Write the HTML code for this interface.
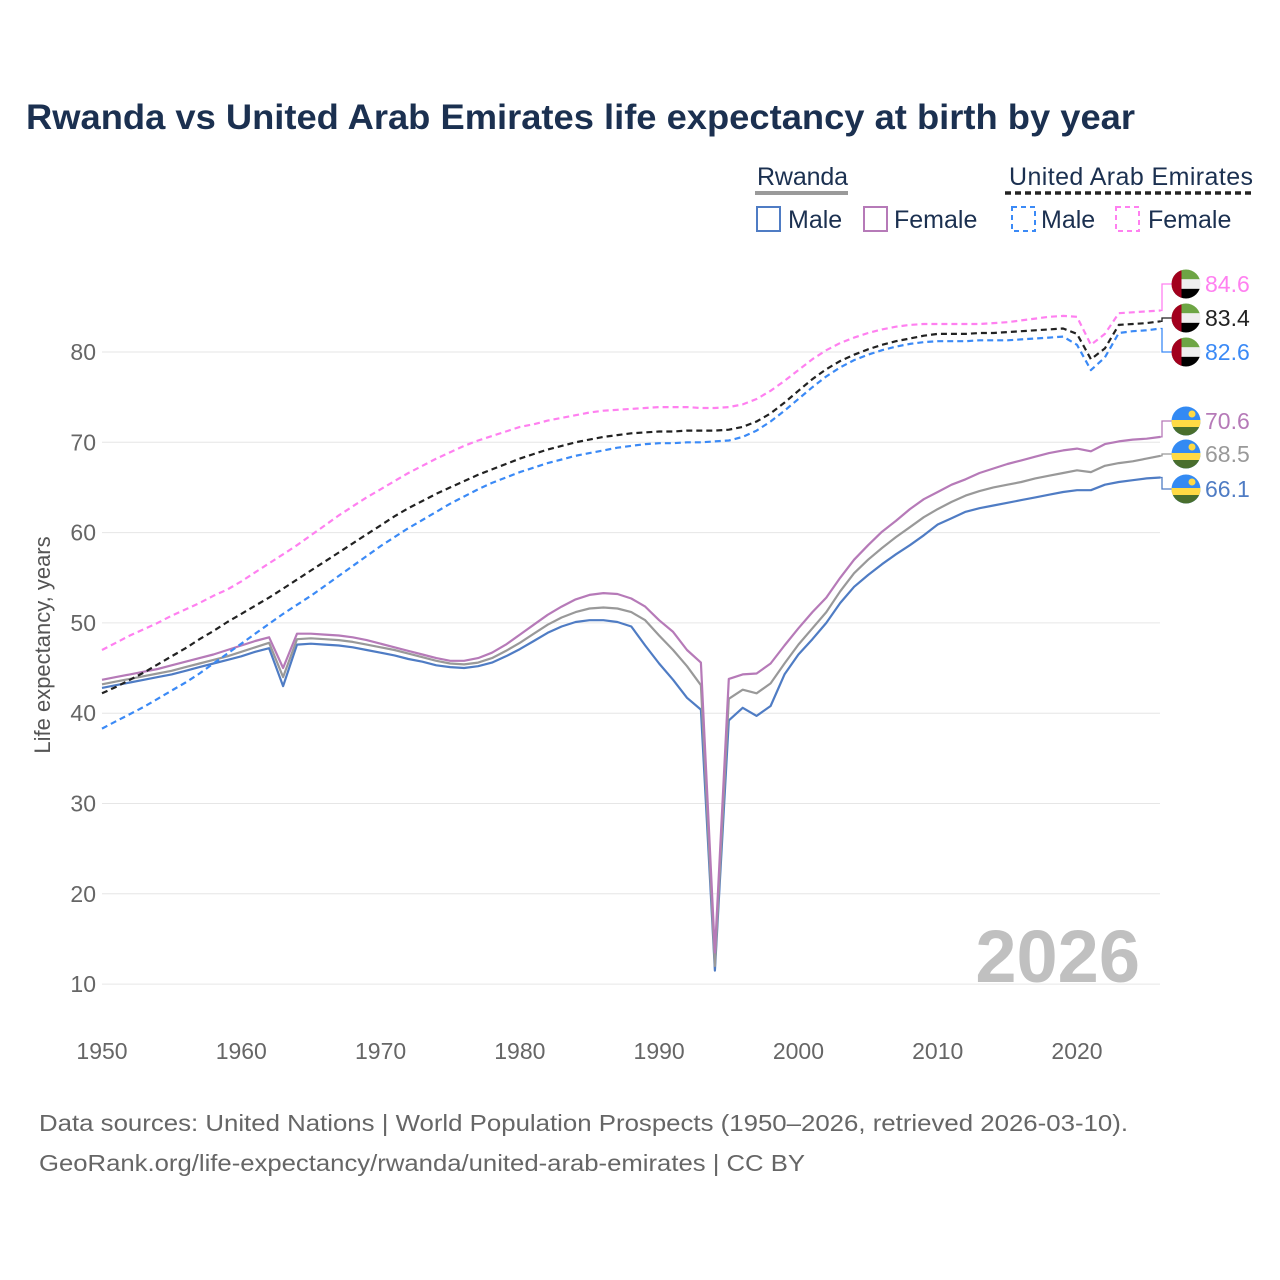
<!DOCTYPE html>
<html><head><meta charset="utf-8"><style>
body{margin:0;background:#fff;}
svg{display:block;font-family:"Liberation Sans",sans-serif;}
</style></head><body>
<svg id="chart" width="1280" height="1280" viewBox="0 0 1280 1280">
<text x="26" y="129" font-size="35" font-weight="bold" fill="#1b3050" textLength="1109" lengthAdjust="spacingAndGlyphs">Rwanda vs United Arab Emirates life expectancy at birth by year</text>
<g font-size="25" fill="#1b3050">
<text x="757" y="185" textLength="91">Rwanda</text>
<line x1="755" y1="193" x2="848" y2="193" stroke="#9a9a9a" stroke-width="4"/>
<rect x="757" y="207" width="23" height="24" fill="none" stroke="#4f7cc4" stroke-width="2"/>
<text x="788" y="228">Male</text>
<rect x="864" y="207" width="23" height="24" fill="none" stroke="#b67ab8" stroke-width="2"/>
<text x="894" y="228">Female</text>
<text x="1009" y="185" textLength="244">United Arab Emirates</text>
<line x1="1005" y1="193" x2="1254" y2="193" stroke="#222" stroke-width="3.5" stroke-dasharray="6,4"/>
<rect x="1012" y="207" width="23" height="24" fill="none" stroke="#3b8af6" stroke-width="2" stroke-dasharray="5,4"/>
<text x="1041" y="228">Male</text>
<rect x="1116" y="207" width="23" height="24" fill="none" stroke="#ff80f0" stroke-width="2" stroke-dasharray="5,4"/>
<text x="1148" y="228">Female</text>
</g>
<g id="grid"></g>
<g id="series"></g>
<g id="ends"></g>
<text x="1140" y="982" font-size="74" font-weight="bold" fill="#c0c0c0" text-anchor="end">2026</text>
<text transform="translate(50,645) rotate(-90)" font-size="22" fill="#555" text-anchor="middle">Life expectancy, years</text>
<text x="39" y="1131" font-size="23" fill="#666" textLength="1089" lengthAdjust="spacingAndGlyphs">Data sources: United Nations | World Population Prospects (1950–2026, retrieved 2026-03-10).</text>
<text x="39" y="1171" font-size="23" fill="#666" textLength="766" lengthAdjust="spacingAndGlyphs">GeoRank.org/life-expectancy/rwanda/united-arab-emirates | CC BY</text>
</svg>
<script>
const startYear = 1950;
const xTicks = [1950,1960,1970,1980,1990,2000,2010,2020];
const yTicks = [10,20,30,40,50,60,70,80];
const uaeFemale = [47.0,47.8,48.6,49.3,50.0,50.8,51.5,52.2,53.0,53.7,54.6,55.6,56.6,57.6,58.6,59.7,60.8,61.9,62.9,63.9,64.8,65.7,66.6,67.4,68.2,68.9,69.6,70.2,70.7,71.2,71.7,72.0,72.4,72.7,73.0,73.3,73.5,73.6,73.7,73.8,73.9,73.9,73.9,73.8,73.8,73.9,74.2,74.8,75.7,76.8,78.0,79.2,80.2,81.0,81.6,82.1,82.5,82.8,83.0,83.1,83.1,83.1,83.1,83.1,83.2,83.3,83.5,83.7,83.9,84.0,83.9,80.8,82.0,84.3,84.4,84.5,84.6];
const uaeTotal = [42.2,42.9,43.7,44.5,45.4,46.3,47.2,48.2,49.1,50.1,51.0,51.9,52.8,53.8,54.8,55.8,56.8,57.8,58.8,59.8,60.8,61.8,62.7,63.5,64.3,65.0,65.7,66.4,67.0,67.6,68.2,68.7,69.2,69.6,70.0,70.3,70.6,70.8,71.0,71.1,71.2,71.2,71.3,71.3,71.3,71.4,71.7,72.3,73.2,74.4,75.7,77.0,78.1,79.0,79.7,80.3,80.8,81.2,81.5,81.8,82.0,82.0,82.0,82.1,82.1,82.2,82.3,82.4,82.5,82.6,82.0,79.2,80.4,83.0,83.1,83.2,83.4];
const uaeMale = [38.3,39.1,39.9,40.7,41.6,42.5,43.4,44.4,45.5,46.6,47.7,48.8,49.9,51.0,52.0,53.0,54.1,55.2,56.3,57.4,58.5,59.5,60.5,61.4,62.3,63.2,64.0,64.8,65.5,66.1,66.7,67.2,67.7,68.1,68.5,68.8,69.1,69.4,69.6,69.8,69.9,69.9,70.0,70.0,70.1,70.2,70.6,71.3,72.3,73.5,74.8,76.1,77.3,78.3,79.1,79.7,80.2,80.6,80.9,81.1,81.2,81.2,81.2,81.3,81.3,81.3,81.4,81.5,81.6,81.7,80.8,78.0,79.4,82.1,82.3,82.4,82.6];
const rwandaFemale = [43.7,44.0,44.3,44.6,44.9,45.3,45.7,46.1,46.5,47.0,47.5,48.0,48.4,45.0,48.8,48.8,48.7,48.6,48.4,48.1,47.7,47.3,46.9,46.5,46.1,45.8,45.8,46.1,46.7,47.6,48.7,49.8,50.9,51.8,52.6,53.1,53.3,53.2,52.7,51.8,50.3,49.0,47.0,45.6,13.5,43.8,44.3,44.4,45.5,47.5,49.4,51.2,52.8,55.0,57.0,58.6,60.1,61.3,62.6,63.7,64.5,65.3,65.9,66.6,67.1,67.6,68.0,68.4,68.8,69.1,69.3,69.0,69.8,70.1,70.3,70.4,70.6];
const rwandaTotal = [43.2,43.5,43.8,44.1,44.4,44.7,45.1,45.5,45.9,46.3,46.8,47.3,47.8,44.0,48.2,48.3,48.2,48.1,47.9,47.6,47.3,47.0,46.6,46.2,45.8,45.5,45.4,45.6,46.1,46.9,47.8,48.8,49.8,50.6,51.2,51.6,51.7,51.6,51.2,50.3,48.6,47.0,45.2,43.1,12.0,41.6,42.6,42.2,43.3,45.5,47.6,49.4,51.2,53.5,55.5,57.0,58.3,59.5,60.6,61.7,62.6,63.4,64.1,64.6,65.0,65.3,65.6,66.0,66.3,66.6,66.9,66.7,67.4,67.7,67.9,68.2,68.5];
const rwandaMale = [42.8,43.1,43.4,43.7,44.0,44.3,44.7,45.1,45.5,45.9,46.3,46.8,47.2,43.0,47.6,47.7,47.6,47.5,47.3,47.0,46.7,46.4,46.0,45.7,45.3,45.1,45.0,45.2,45.6,46.3,47.1,48.0,48.9,49.6,50.1,50.3,50.3,50.1,49.6,47.5,45.5,43.7,41.7,40.4,11.5,39.2,40.6,39.7,40.8,44.3,46.5,48.2,50.0,52.2,54.0,55.3,56.5,57.6,58.6,59.7,60.9,61.6,62.3,62.7,63.0,63.3,63.6,63.9,64.2,64.5,64.7,64.7,65.3,65.6,65.8,66.0,66.1];

const NS='http://www.w3.org/2000/svg';
const X0=102, XPY=975/70, Y80=352, YP=9.03;
const xs = yr => X0 + (yr-1950)*XPY;
const ys = v => Y80 + (80-v)*YP;
function mk(tag, attrs, parent){const e=document.createElementNS(NS,tag);for(const k in attrs)e.setAttribute(k,attrs[k]);parent.appendChild(e);return e;}

const grid=document.getElementById('grid');
yTicks.forEach(t=>{
  const l=mk('line',{x1:102,x2:1160,y1:ys(t),y2:ys(t),stroke:'#e6e6e6','stroke-width':1},grid);
  
  
  const tx=mk('text',{x:96,y:ys(t)+8,'font-size':23,fill:'#666','text-anchor':'end'},grid);
  tx.textContent=t;
  
  
});
xTicks.forEach(t=>{
  const tx=mk('text',{x:xs(t),y:1059,'font-size':23,fill:'#666','text-anchor':'middle'},grid);
  tx.textContent=t;
  
  
});

const seriesG=document.getElementById('series');
const endsG=document.getElementById('ends');
const defs=mk('defs',{},document.getElementById('chart'));
const list=[
 {d:rwandaMale,c:'#4f7cc4',dash:null,name:'rwanda-male',ly:489,flag:'rw'},
 {d:rwandaTotal,c:'#999999',dash:null,name:'rwanda-total',ly:454,flag:'rw'},
 {d:rwandaFemale,c:'#b67ab8',dash:null,name:'rwanda-female',ly:421,flag:'rw'},
 {d:uaeMale,c:'#3b8af6',dash:'6,4',name:'uae-male',ly:352,flag:'ae'},
 {d:uaeFemale,c:'#ff80f0',dash:'6,4',name:'uae-female',ly:284,flag:'ae'},
 {d:uaeTotal,c:'#222222',dash:'6,4',name:'uae-total',ly:318,flag:'ae'}
];
list.forEach((s,i)=>{
  const pts=s.d.map((v,k)=>xs(startYear+k).toFixed(1)+','+ys(v).toFixed(1)).join(' ');
  const a={points:pts,fill:'none',stroke:s.c,'stroke-width':2.2,'stroke-linejoin':'round'};
  if(s.dash)a['stroke-dasharray']=s.dash;
  const p=mk('polyline',a,seriesG);
  
  
  const lastV=s.d[s.d.length-1];
  const ex=xs(startYear+s.d.length-1), ey=ys(lastV);
  const con=mk('polyline',{points:`${ex},${ey} 1162,${ey} 1162,${s.ly} 1172,${s.ly}`,fill:'none',stroke:s.c,'stroke-width':1.3},endsG);
  
  
  const cx=1186, cy=s.ly, r=14.5;
  const cp=mk('clipPath',{id:'clip'+i},defs);
  mk('circle',{cx:cx,cy:cy,r:r},cp);
  const fg=mk('g',{'clip-path':`url(#clip${i})`},endsG);
  
  
  if(s.flag==='ae'){
    mk('rect',{x:cx-r,y:cy-r,width:2*r,height:2*r/3+0.5,fill:'#6da544'},fg);
    mk('rect',{x:cx-r,y:cy-r/3,width:2*r,height:2*r/3+0.5,fill:'#eeeeee'},fg);
    mk('rect',{x:cx-r,y:cy+r/3,width:2*r,height:2*r/3,fill:'#000'},fg);
    mk('rect',{x:cx-r,y:cy-r,width:10,height:2*r,fill:'#a2001d'},fg);
  } else {
    mk('rect',{x:cx-r,y:cy-r,width:2*r,height:2*r,fill:'#338af3'},fg);
    mk('rect',{x:cx-r,y:cy-1,width:2*r,height:7,fill:'#ffda44'},fg);
    mk('rect',{x:cx-r,y:cy+6,width:2*r,height:10,fill:'#496e2d'},fg);
    mk('circle',{cx:cx+6,cy:cy-7,r:3.5,fill:'#ffda44'},fg);
  }
  const t=mk('text',{x:1205,y:s.ly+8,'font-size':23,fill:s.c},endsG);
  t.textContent=lastV.toFixed(1);
  
  
});
</script>
</body></html>
